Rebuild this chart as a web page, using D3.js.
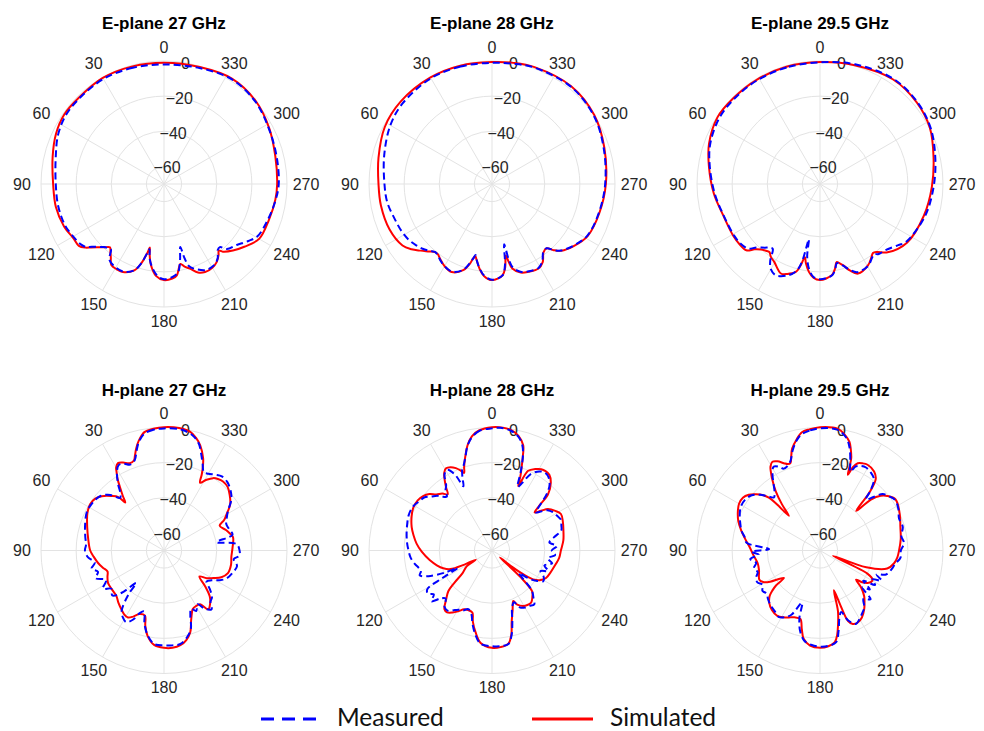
<!DOCTYPE html>
<html>
<head>
<meta charset="utf-8">
<script src="https://cdn.jsdelivr.net/npm/d3@7"></script>
<style>
  html, body { margin: 0; padding: 0; background: #ffffff; }
  svg { display: block; }
</style>
</head>
<body>
<svg id="chart" width="984" height="731"></svg>
<script>
// ---------- data (angle in degrees, counter-clockwise from top; value in dB) ----------
const panelTitles = ["E-plane 27 GHz", "E-plane 28 GHz", "E-plane 29.5 GHz",
                     "H-plane 27 GHz", "H-plane 28 GHz", "H-plane 29.5 GHz"];
const angleTicks = [0, 30, 60, 90, 120, 150, 180, 210, 240, 270, 300, 330];
const radialTicks = [-60, -40, -20, 0];
const radialDomain = [-70, 0];
const legendLabels = ["Measured", "Simulated"];

const ePlane27Simulated = [[0,-1],[15,-0.7],[30,-0.3],[45,-1],[55,-0.8],[65,-2.2],[76,-4.7],[90,-6.9],[102,-7.1],[113,-8.2],[121,-9.9],[126,-10.1],[129,-12.5],[131,-15],[134,-18.1],[136.5,-20.3],[139.5,-22.6],[142,-20.5],[144,-18.5],[147,-15],[151,-14.5],[155,-14.7],[161,-18],[164,-23],[166.5,-30],[167.4,-33],[168.5,-29],[171,-23],[175,-17.5],[180,-15.3],[185,-16],[188,-17.5],[191.6,-23.5],[194,-21.5],[197,-19.6],[201,-16],[205,-14.7],[210,-15],[214,-16.4],[217.5,-19],[219.5,-21],[221,-19],[226,-15.5],[232,-12],[240,-7.5],[251,-6.9],[262,-6],[270,-5.6],[284,-4.7],[298,-2.2],[312,0.4],[327,1.4],[343,-0.4]];
const ePlane27Measured = [[0,-2],[15,-1.5],[30,-1],[45,-1.5],[55,-1.8],[65,-3.5],[76,-6.5],[90,-8.4],[102,-8.5],[113,-9],[121,-10.5],[126,-11.5],[129,-13],[131,-15.5],[134,-18.5],[136.5,-20.5],[139,-21.5],[141,-22],[144,-17],[148,-15.5],[155,-15],[161,-18],[164,-23],[166.5,-30],[167.5,-32],[169,-27],[172,-22],[176,-17.5],[180,-15.8],[185,-16.8],[189,-19],[192,-26],[194.5,-33],[195.5,-26],[197,-21],[201,-18],[206,-15.5],[212,-15.8],[216,-18],[219,-21.5],[221.5,-22],[224,-18.5],[230,-16],[236,-12],[241,-9],[251,-7.5],[262,-5.8],[270,-4.7],[284,-4],[298,-2.5],[312,0],[327,1],[343,-1]];

const ePlane28Simulated = [[0,-0.6],[15,-0.3],[30,0],[48,0],[62,-0.9],[77,-3.7],[90,-5.4],[101,-5.6],[114,-6.2],[124.5,-8.2],[129,-11],[133,-14.4],[137,-17.5],[140,-19.4],[142.5,-19.5],[145,-18.3],[150,-16],[155.4,-14.9],[161.5,-18.3],[164.5,-23],[165.7,-26],[167,-27.8],[168.5,-26],[171.6,-21.3],[175,-17.5],[180,-15.3],[186.6,-17.7],[189,-22],[190.9,-28.6],[192,-25],[193.5,-20.5],[198,-17],[202.7,-15.9],[208.8,-15.1],[213,-17],[217,-21.3],[220.4,-22],[223,-18.5],[226,-15.3],[233,-11.5],[241.6,-8],[255,-6.7],[270,-5.2],[288,-2.8],[304,0.2],[321,1.6],[340,0.8],[350,0]];
const ePlane28Measured = [[0,-1],[15,-0.8],[30,-0.5],[48,-1.5],[60,-3.2],[75,-6.5],[90,-8.8],[100,-9.5],[110,-11.2],[118,-12],[124,-13],[129,-14.5],[133,-16],[137,-18],[140,-19.5],[143,-19],[146,-17.5],[150,-16],[155.4,-15.2],[161.5,-18.5],[165.7,-26],[167,-28.5],[168.5,-26],[171.6,-21.5],[175,-17.8],[180,-15.5],[186.6,-17.7],[189,-23],[191.4,-35],[192.5,-26],[194,-21],[198,-17.5],[203,-16],[209,-15.4],[213,-17.5],[217,-21.5],[220.4,-22],[223,-18.5],[226,-15.5],[233,-11.8],[241.6,-8.3],[255,-7],[270,-5.6],[288,-3.2],[304,-0.2],[321,1.3],[340,0.5],[350,-0.5]];

const ePlane295Simulated = [[0,-0.6],[16,-0.6],[31.5,-0.6],[45,-0.6],[57,-0.4],[70,-2.8],[81,-6],[95,-9.3],[108,-12.1],[121,-12.5],[127,-12.8],[132,-13.6],[135,-17.4],[138,-19.8],[141.5,-21.3],[143.5,-21.7],[146,-20],[149.7,-18.5],[156.4,-14.4],[160,-15.5],[164.6,-18.1],[166.5,-22],[168.3,-27.4],[170,-24],[172.8,-19.6],[176,-16.5],[180,-15.3],[187.4,-17.7],[190,-21],[192,-24.6],[194,-23.5],[196,-21.8],[199,-18],[203,-14.6],[210.5,-16.2],[215,-19],[217.5,-20.5],[220,-19.5],[224.7,-15.3],[236,-10.3],[253,-8.2],[268.7,-6.3],[283.3,-3.6],[297,0.2],[310,2],[325,2.6],[343.7,0.4]];
const ePlane295Measured = [[0,-0.8],[16,-1],[31.5,-1],[45,-1.2],[57,-1.5],[70,-3.5],[81,-6.5],[95,-9.8],[108,-12.3],[121,-13],[127,-13.5],[132,-15],[135,-18.9],[139,-22],[142,-24],[144,-24.3],[147,-18],[150,-14],[154.3,-12.3],[161.3,-15.3],[165,-19],[167,-25],[168.6,-38],[170,-28],[172.8,-21],[176,-17],[180,-15.8],[187.4,-17.5],[190,-20.5],[192,-24],[194,-23],[196,-21.5],[199,-18.5],[203,-15.5],[210.5,-16],[215,-18.5],[217.5,-19.5],[220,-18],[224.7,-17],[232,-13.5],[236,-11],[253,-7.5],[268.7,-5.3],[283.3,-2.6],[297,0.6],[310,2.4],[325,3],[343.7,1]];

const hPlane27Simulated = [[0,0.2],[5,-0.5],[9.4,-1.7],[13,-6],[15.3,-9.9],[17,-13.5],[18.5,-16],[21.5,-16.6],[25,-14.8],[27.8,-13.8],[30,-15.5],[31,-17.5],[33,-21.5],[34.6,-25.6],[37,-31],[38.9,-34.9],[40.5,-30],[44,-26.9],[48.9,-23],[53,-21],[57.9,-20.4],[64,-21.5],[73,-24.3],[82,-26.5],[90,-28],[95,-29.8],[101,-31.9],[106,-34],[110.4,-35.7],[115,-34.5],[120,-33.2],[127,-33],[133.8,-32.5],[139,-30.5],[144,-28.7],[148,-27.2],[151.7,-26.7],[155,-28.5],[158.9,-31.2],[163.7,-31.4],[166,-26],[169,-20.7],[174,-16],[180,-14.6],[185,-14.4],[189.8,-15.3],[194,-17.5],[197.8,-21.1],[201,-27],[204,-31],[206,-32.8],[210,-33.5],[213.8,-33.2],[217,-28.1],[221,-30],[225,-33.2],[229,-39],[233.8,-45],[237,-41],[240.8,-37.9],[245,-34],[250.5,-31.4],[258,-31],[264.7,-31.5],[272,-31],[281,-30],[285,-31.5],[288,-32.7],[294,-35.3],[297,-31.5],[300,-28.9],[305,-24],[310.5,-20.9],[315,-18.8],[319.5,-18.3],[323,-19],[325.8,-20.2],[329,-23],[332,-26.3],[333.5,-22],[334.8,-18.3],[337,-13],[341,-6.7],[344,-3.5],[347.5,-0.9],[353,0.2]];
const hPlane27Measured = [[0,-0.5],[5,-1],[9.4,-2.5],[13,-6.5],[15.3,-11],[18,-16],[21.5,-17.5],[25,-15.5],[28,-15],[31,-18],[34.6,-24],[38,-30],[40,-31],[44,-26],[49,-22.5],[53,-21.5],[58,-21],[64,-21],[73,-23],[80,-24.5],[86,-25.5],[90,-25],[95,-26.5],[100,-30],[104,-27.5],[108,-30.5],[112,-28],[117,-33],[122,-29],[126,-33],[131,-31],[135,-36],[139.4,-45.6],[141,-38],[145,-28],[149,-25],[152.3,-23.9],[156,-27],[159,-32],[162,-33.5],[165,-27],[169,-21],[174,-16.5],[180,-16],[185,-15.8],[190,-16],[195,-19],[199,-23],[202,-30],[205,-33.5],[208,-31],[212,-34],[215,-29.5],[219,-27],[222,-30.5],[226,-32],[230,-36],[234,-40],[238,-38],[242,-34],[246,-31],[252,-29],[258,-27.5],[263,-30],[266,-27],[270,-27],[275,-28.5],[279,-39.7],[283,-30],[288,-31],[293,-31.5],[297,-30],[302,-27],[307,-22],[312,-19],[317,-17],[322,-16.5],[326,-18],[330,-19.5],[333,-20],[336,-16],[339,-11],[342,-6],[346,-2.5],[352,-0.5]];

const hPlane28Simulated = [[0,0.2],[6.2,-1.3],[10,-4],[13,-8.4],[16.3,-15.3],[18.5,-20],[19.8,-23.1],[21.5,-21],[23.7,-18.8],[26.5,-17],[29.2,-16.4],[31.5,-18],[33.3,-20.7],[36,-25.5],[38.3,-29.3],[41,-27],[44.8,-25],[48,-22],[51.7,-20],[56,-19],[61.4,-19],[67,-20.3],[73.8,-22.4],[79,-24.5],[84.8,-26.9],[91,-30],[98.7,-34.1],[105,-37.5],[110,-40.5],[114,-44],[117,-52],[119.5,-59.4],[122,-53],[127.5,-48.9],[130.7,-41.6],[133,-36],[136.8,-31.9],[141,-27],[144,-26.5],[147.6,-28.2],[151,-30.5],[154.6,-33],[158,-33.5],[162.4,-33],[165,-28],[168.6,-22.6],[173,-17],[180,-14.6],[185,-14.8],[190,-16.2],[193,-21],[195.3,-27.6],[199,-34],[202.9,-38.8],[205,-36],[209.3,-33.8],[213,-33],[217,-32.9],[221,-35],[224.5,-37.5],[227,-48],[229,-64],[231,-55],[233,-47],[235.6,-40.5],[239,-37.5],[243,-35.5],[249,-34.5],[255.5,-33.4],[264,-31.5],[270,-30.8],[278,-29],[285.6,-27.8],[292,-26.5],[297.9,-25.6],[302,-27.5],[306.5,-30.4],[309,-34],[311.7,-37.5],[313.5,-33],[315,-25],[319,-19],[322.9,-15.9],[326,-15.5],[328.8,-15.9],[332,-17.5],[335.6,-20.2],[337.8,-30.4],[339,-25],[340.3,-20.2],[342,-13],[343.5,-7.5],[347,-3],[350.7,-0.7],[355,0.2]];
const hPlane28Measured = [[0,-0.5],[6,-1.5],[10,-4.5],[13,-8.5],[16.3,-15.5],[18.5,-19],[20,-20.5],[22,-25],[24,-30],[26,-22],[29,-17.5],[32,-19],[35,-24.5],[38,-27],[40,-30],[43,-28],[45,-26],[48,-24],[52,-21],[56,-20],[61,-18.5],[67,-18.5],[73,-19.5],[79,-20.5],[85,-21.5],[90,-22.5],[95,-23.5],[100,-25.5],[103,-27],[106,-28],[109,-26.5],[112,-31],[115,-40],[117,-48],[119,-38],[121,-27],[124,-26],[127,-28.5],[130,-25],[133,-30],[136,-32],[140,-28],[144,-27.5],[148,-30],[151,-31.5],[154,-32],[158,-34],[162,-32],[165,-27],[168.6,-21.5],[173,-16.5],[180,-15.5],[185,-15.3],[190,-16],[193,-20.5],[196,-28],[199,-35],[203,-38],[206,-34],[210,-32.5],[214,-32],[218,-31],[221,-34],[225,-38],[228,-47],[230,-50],[233,-43],[236,-39],[239,-36],[243,-37],[247,-40],[250,-36],[254,-39],[258,-35],[262,-38],[266,-34],[270,-36],[274,-33],[278,-37],[282,-34],[286,-29],[290,-28],[294,-27],[298,-28],[302,-29],[306,-31],[309,-35],[311,-37],[313.5,-32],[316,-25],[319,-20],[323,-17],[326,-16.5],[329,-17.5],[333,-21],[336,-28],[338,-31],[340,-22],[342,-13],[344,-7.5],[347,-3.5],[351,-1],[356,0]];

const hPlane295Simulated = [[0,0.2],[5,-0.8],[8.7,-1.9],[12,-5.5],[15.3,-9.9],[17,-14],[18.7,-17.5],[20.5,-17.5],[22.5,-16.2],[25.5,-13.8],[28.2,-12.7],[30.5,-14.5],[31.9,-17],[34,-21.5],[36.7,-27.8],[39.5,-36],[41.9,-43.5],[43,-34],[43.9,-28.4],[46,-24.5],[48.7,-21.6],[52,-18.5],[55.6,-16.8],[60,-16.8],[64.2,-18.1],[70,-20.5],[75.7,-23.7],[81,-26.8],[87,-29.8],[94,-32],[101.6,-33.8],[108,-33.5],[115.7,-31.7],[119,-33],[122,-36.5],[125,-42],[127.4,-44.2],[128.5,-38],[130,-34.7],[132,-31.5],[135.7,-28.6],[141,-26.5],[146.8,-25.6],[151,-26.5],[155,-28],[159,-29.3],[164,-29.5],[167,-24],[169.5,-18.9],[174,-15.6],[180,-14.6],[185,-15.3],[189.2,-17.2],[191.5,-21],[193.5,-26.1],[196.5,-34],[199.2,-46],[200.5,-36],[201.7,-26.8],[204,-24.2],[207.7,-23.7],[212,-25],[217,-28.2],[220.5,-31],[224,-33.8],[228,-38.5],[231,-43.6],[233,-40],[235.7,-37.2],[238.5,-35.8],[241,-35.8],[244,-40],[247.5,-62],[250,-42],[255,-30.4],[260,-27.3],[265,-25.8],[270,-25],[278,-23.6],[286,-22.4],[295,-20],[304,-18.1],[309,-20.7],[312,-23.5],[315,-29],[317.5,-39.5],[319.5,-27],[322,-18.5],[325.6,-15.5],[331,-14.2],[334,-14.8],[336.6,-15.9],[338.5,-19],[339.8,-24.1],[340.5,-20],[341.3,-14.6],[343,-10],[344.8,-6],[347.5,-3],[351.6,0]];
const hPlane295Measured = [[0,-0.5],[5,-1.5],[9,-3],[12,-6],[15.3,-11],[18,-16],[21,-18.5],[24,-19],[26,-17],[29,-15.5],[32,-19],[35,-24],[38,-28],[41,-30],[44,-27],[47,-23.5],[51,-20],[56,-18.5],[61,-18.5],[66,-20],[71,-22],[76,-24],[80,-26.5],[84,-28],[88.5,-41],[91,-31],[94,-35],[97,-30],[101,-33],[105,-31],[109,-32.5],[113,-30.5],[117,-30],[121,-32],[125,-30],[129,-31],[133,-29.5],[138,-28],[143,-27],[148,-25.5],[152,-27],[156,-30],[161,-38.6],[163,-30],[166,-23],[170,-18],[175,-16],[180,-15.3],[185,-15.5],[190,-17],[193,-23],[196,-30],[199,-33],[202,-27],[206,-23.5],[210,-25],[214,-27],[218,-29],[222,-33],[226,-30],[229,-38],[232,-34],[235,-40],[238,-33],[241,-36],[244,-31],[247,-35],[250,-30],[255,-28],[260,-26.5],[265,-24],[270,-24],[275,-22],[280,-23],[286,-21],[292,-21.5],[298,-19.5],[304,-18.5],[308,-20],[312,-22],[315,-27],[318,-31],[320,-25],[323,-19],[327,-17],[331,-16],[334,-16.5],[337,-18],[339,-22],[341,-17],[344,-9],[347,-4],[352,-0.5]];

const measuredSeries = [ePlane27Measured, ePlane28Measured, ePlane295Measured, hPlane27Measured, hPlane28Measured, hPlane295Measured];
const simulatedSeries = [ePlane27Simulated, ePlane28Simulated, ePlane295Simulated, hPlane27Simulated, hPlane28Simulated, hPlane295Simulated];

// ---------- layout ----------
const svg = d3.select("#chart");
const R = 123;
const colX = d3.scalePoint().domain([0, 1, 2]).range([164, 820]);
const rowY = d3.scalePoint().domain([0, 1]).range([184, 550.5]);
const rScale = d3.scaleLinear().domain(radialDomain).range([0, R]);
const gridColor = "#e3e3e3";
const textColor = "#262626";
const fontFamily = "'Liberation Sans', Arial, Helvetica, sans-serif";
const rad = d => d * Math.PI / 180;
const fmt = d3.format("d");

const radialLine = d3.lineRadial()
  .angle(d => -rad(d[0]))
  .radius(d => rScale(Math.max(d[1], radialDomain[0])))
  .curve(d3.curveCatmullRomClosed.alpha(0.5));

panelTitles.forEach((title, i) => {
  const cx = colX(i % 3), cy = rowY(Math.floor(i / 3));
  const g = svg.append("g").attr("transform", `translate(${cx},${cy})`);

  g.selectAll("circle.ring").data(radialTicks).join("circle")
    .attr("class", "ring")
    .attr("r", d => rScale(d))
    .attr("fill", "none").attr("stroke", gridColor).attr("stroke-width", 1);

  g.selectAll("line.spoke").data(angleTicks).join("line")
    .attr("class", "spoke")
    .attr("x1", 0).attr("y1", 0)
    .attr("x2", d => -R * Math.sin(rad(d)))
    .attr("y2", d => -R * Math.cos(rad(d)))
    .attr("stroke", gridColor).attr("stroke-width", 1);

  g.selectAll("text.ang").data(angleTicks).join("text")
    .attr("class", "ang")
    .attr("x", d => -(R + 16 + 3 * Math.abs(Math.sin(rad(d)))) * Math.sin(rad(d)))
    .attr("y", d => -(R + 14 + 4 * Math.abs(Math.sin(rad(d)))) * Math.cos(rad(d)))
    .attr("text-anchor", "middle").attr("dominant-baseline", "central")
    .attr("font-family", fontFamily).attr("font-size", 16).attr("fill", textColor)
    .text(d => fmt(d));

  g.selectAll("text.rad").data(radialTicks).join("text")
    .attr("class", "rad")
    .attr("x", d => rScale(d) * Math.sin(rad(10)))
    .attr("y", d => -rScale(d) * Math.cos(rad(10)) + 1)
    .attr("text-anchor", "middle").attr("dominant-baseline", "central")
    .attr("font-family", fontFamily).attr("font-size", 16).attr("fill", textColor)
    .text(d => fmt(d));

  g.append("path").datum(simulatedSeries[i])
    .attr("d", radialLine)
    .attr("fill", "none").attr("stroke", "#ff0000").attr("stroke-width", 2)
    .attr("stroke-linejoin", "round");

  g.append("path").datum(measuredSeries[i])
    .attr("d", radialLine)
    .attr("fill", "none").attr("stroke", "#0000ff").attr("stroke-width", 2)
    .attr("stroke-dasharray", "7,4");

  svg.append("text")
    .attr("x", cx).attr("y", cy - 155)
    .attr("text-anchor", "middle")
    .attr("font-family", fontFamily).attr("font-weight", "bold").attr("font-size", 17)
    .attr("fill", "#000").text(title);
});

// ---------- legend ----------
const legend = svg.append("g");
legend.append("line").attr("x1", 261).attr("x2", 322).attr("y1", 719).attr("y2", 719)
  .attr("stroke", "#0000ff").attr("stroke-width", 3).attr("stroke-dasharray", "13,8");
legend.append("text").attr("x", 337).attr("y", 726)
  .attr("font-family", "Lato, 'Open Sans', sans-serif").attr("font-size", 24.5).attr("fill", "#111")
  .text(legendLabels[0]);
legend.append("line").attr("x1", 532).attr("x2", 593).attr("y1", 719).attr("y2", 719)
  .attr("stroke", "#ff0000").attr("stroke-width", 3);
legend.append("text").attr("x", 610).attr("y", 726)
  .attr("font-family", "Lato, 'Open Sans', sans-serif").attr("font-size", 24.5).attr("fill", "#111")
  .text(legendLabels[1]);
</script>
</body>
</html>
